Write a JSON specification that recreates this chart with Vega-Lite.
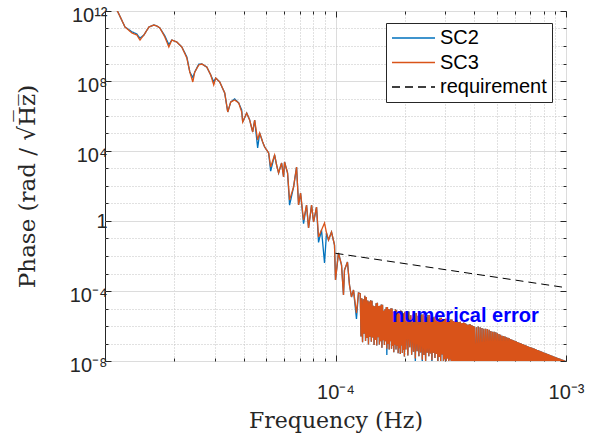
{
"$schema":"https://vega.github.io/schema/vega-lite/v6.json",
"width":461,"height":350,
"autosize":{"type":"none"},
"padding":{"left":105,"top":11,"right":41,"bottom":78},
"background":"white",
"config":{
"view":{"stroke":"#262626","strokeWidth":1},
"axis":{"domain":false,"labelFlush":false,"labelOverlap":false,"labelBound":false},
"legend":{"orient":"none","legendX":281,"legendY":12,"fillColor":"white","strokeColor":"#262626","padding":5,"symbolType":"stroke","symbolSize":1849,"symbolStrokeWidth":1.3,"labelFontSize":20,"labelFont":"Liberation Sans","labelColor":"#000000","labelOffset":4,"clipHeight":20,"rowPadding":4.5,"labelLimit":300}
},
"layer":[
{
"data":{"values":[
{"f":1.0e-5,"SC2":2e13,"SC3":2e13},
{"f":1.138e-5,"SC2":8.7e11,"SC3":8.7e11},
{"f":1.221e-5,"SC2":1.22e11,"SC3":1.22e11},
{"f":1.309e-5,"SC2":6.5e10,"SC3":5.53e10},
{"f":1.375e-5,"SC2":4.8e10,"SC3":4.25e10},
{"f":1.418e-5,"SC2":2.8e10,"SC3":2.2e10},
{"f":1.475e-5,"SC2":4.25e10,"SC3":4.25e10},
{"f":1.551e-5,"SC2":1.22e11,"SC3":1.22e11},
{"f":1.630e-5,"SC2":1.58e11,"SC3":1.58e11},
{"f":1.680e-5,"SC2":1.39e11,"SC3":1.39e11},
{"f":1.730e-5,"SC2":1.07e11,"SC3":1.07e11},
{"f":1.818e-5,"SC2":3.8e10,"SC3":3.27e10},
{"f":1.892e-5,"SC2":1.2e10,"SC3":8.8e9},
{"f":1.950e-5,"SC2":2.2e10,"SC3":2.2e10},
{"f":2.049e-5,"SC2":1.69e10,"SC3":1.69e10},
{"f":2.154e-5,"SC2":8.8e9,"SC3":8.8e9},
{"f":2.265e-5,"SC2":2.4e9,"SC3":2.06e9},
{"f":2.333e-5,"SC2":3.27e8,"SC3":3.27e8},
{"f":2.404e-5,"SC2":1.6e8,"SC3":8.8e7},
{"f":2.452e-5,"SC2":3.27e8,"SC3":3.27e8},
{"f":2.552e-5,"SC2":9.2e8,"SC3":8.2e8},
{"f":2.630e-5,"SC2":9.4e8,"SC3":9.4e8},
{"f":2.764e-5,"SC2":6.3e8,"SC3":6.3e8},
{"f":2.876e-5,"SC2":2.2e8,"SC3":2.2e8},
{"f":2.963e-5,"SC2":9e7,"SC3":5.9e7},
{"f":3.023e-5,"SC2":1.48e8,"SC3":1.48e8},
{"f":3.146e-5,"SC2":8.8e7,"SC3":8.8e7},
{"f":3.307e-5,"SC2":2.06e7,"SC3":2.06e7},
{"f":3.408e-5,"SC2":1.69e6,"SC3":1.69e6},
{"f":3.512e-5,"SC2":6.3e6,"SC3":6.3e6},
{"f":3.654e-5,"SC2":9.5e6,"SC3":8.2e6},
{"f":3.803e-5,"SC2":5.53e6,"SC3":5.53e6},
{"f":3.918e-5,"SC2":2.2e6,"SC3":1.69e6},
{"f":3.957e-5,"SC2":4.5e5,"SC3":4.5e5},
{"f":4.118e-5,"SC2":1.48e6,"SC3":1.48e6},
{"f":4.243e-5,"SC2":5.9e5,"SC3":5.9e5},
{"f":4.372e-5,"SC2":1.22e5,"SC3":1.22e5},
{"f":4.460e-5,"SC2":5.9e5,"SC3":5.9e5},
{"f":4.595e-5,"SC2":1.5e4,"SC3":4.25e4},
{"f":4.688e-5,"SC2":1.07e5,"SC3":1.07e5},
{"f":4.831e-5,"SC2":3.27e4,"SC3":3.27e4},
{"f":4.928e-5,"SC2":1.69e4,"SC3":1.69e4},
{"f":5.129e-5,"SC2":7.7e3,"SC3":7.7e3},
{"f":5.232e-5,"SC2":700,"SC3":1.22e3},
{"f":5.443e-5,"SC2":5.9e3,"SC3":5.9e3},
{"f":5.552e-5,"SC2":1.58e3,"SC3":1.58e3},
{"f":5.663e-5,"SC2":553,"SC3":553},
{"f":5.835e-5,"SC2":2.06e3,"SC3":2.06e3},
{"f":5.953e-5,"SC2":327,"SC3":327},
{"f":6.012e-5,"SC2":2.35e3,"SC3":2.35e3},
{"f":6.195e-5,"SC2":553,"SC3":553},
{"f":6.320e-5,"SC2":8,"SC3":15.8},
{"f":6.578e-5,"SC2":87.7,"SC3":87.7},
{"f":6.778e-5,"SC2":1.22e3,"SC3":1.22e3},
{"f":6.914e-5,"SC2":8.2,"SC3":8.2},
{"f":7.054e-5,"SC2":39.8,"SC3":39.8},
{"f":7.268e-5,"SC2":0.7,"SC3":1.14},
{"f":7.489e-5,"SC2":8.2,"SC3":8.2},
{"f":7.640e-5,"SC2":0.398,"SC3":0.398},
{"f":7.873e-5,"SC2":8.2,"SC3":8.2},
{"f":8.032e-5,"SC2":0.877,"SC3":0.877},
{"f":8.275e-5,"SC2":6.3,"SC3":6.3},
{"f":8.441e-5,"SC2":0.06,"SC3":0.122},
{"f":8.697e-5,"SC2":0.306,"SC3":0.306},
{"f":8.961e-5,"SC2":4e-3,"SC3":0.769},
{"f":9.141e-5,"SC2":0.206,"SC3":0.206},
{"f":9.326e-5,"SC2":0.082,"SC3":0.082},
{"f":9.609e-5,"SC2":0.235,"SC3":0.235},
{"f":9.901e-5,"SC2":0.0425,"SC3":0.0425},
{"f":1.000e-4,"SC2":4.25e-4,"SC3":4.25e-4},
{"f":1.030e-4,"SC2":0.0148,"SC3":0.0148},
{"f":1.062e-4,"SC2":3.06e-3,"SC3":3.06e-3},
{"f":1.083e-4,"SC2":5.9e-5,"SC3":5.9e-5},
{"f":1.094e-4,"SC2":1.58e-3,"SC3":1.58e-3},
{"f":1.127e-4,"SC2":4.54e-3,"SC3":4.54e-3},
{"f":1.150e-4,"SC2":2.2e-4,"SC3":2.2e-4},
{"f":1.173e-4,"SC2":4.54e-5,"SC3":4.54e-5},
{"f":1.197e-4,"SC2":1.14e-4,"SC3":1.14e-4},
{"f":1.233e-4,"SC2":2.5e-6,"SC3":5.5e-6},
{"f":1.258e-4,"SC2":7.7e-5,"SC3":7.7e-5},
{"f":1.28e-4,"SC2":7.1e-5,"SC3":7.1e-5},
{"f":1.29e-4,"SC2":2.5e-7,"SC3":2.5e-7},
{"f":1.30e-4,"SC2":3.9e-5,"SC3":3.9e-5},
{"f":1.31e-4,"SC2":1.2e-7,"SC3":1.2e-7},
{"f":1.32e-4,"SC2":3.4e-5,"SC3":3.4e-5},
{"f":1.33e-4,"SC2":3.6e-7,"SC3":3.6e-7},
{"f":1.34e-4,"SC2":5.3e-5,"SC3":5.3e-5},
{"f":1.35e-4,"SC2":1.4e-7,"SC3":1.4e-7},
{"f":1.36e-4,"SC2":4.6e-5,"SC3":4.6e-5},
{"f":1.37e-4,"SC2":2.05e-7,"SC3":2.05e-7},
{"f":1.38e-4,"SC2":2.85e-5,"SC3":2.85e-5},
{"f":1.39e-4,"SC2":8.9e-8,"SC3":8.9e-8},
{"f":1.40e-4,"SC2":2.5e-5,"SC3":2.5e-5},
{"f":1.41e-4,"SC2":2.4e-7,"SC3":2.4e-7},
{"f":1.42e-4,"SC2":2.95e-5,"SC3":2.95e-5},
{"f":1.43e-4,"SC2":1.28e-7,"SC3":1.28e-7},
{"f":1.44e-4,"SC2":2.75e-5,"SC3":2.75e-5},
{"f":1.45e-4,"SC2":2.2e-7,"SC3":2.2e-7},
{"f":1.46e-4,"SC2":1.42e-5,"SC3":1.42e-5},
{"f":1.47e-4,"SC2":8.3e-8,"SC3":8.3e-8},
{"f":1.48e-4,"SC2":1.33e-5,"SC3":1.33e-5},
{"f":1.49e-4,"SC2":1.58e-7,"SC3":1.58e-7},
{"f":1.50e-4,"SC2":2.0e-5,"SC3":2.0e-5},
{"f":1.51e-4,"SC2":7.6e-8,"SC3":7.6e-8},
{"f":1.52e-4,"SC2":2.1e-5,"SC3":2.1e-5},
{"f":1.53e-4,"SC2":2.3e-7,"SC3":2.3e-7},
{"f":1.54e-4,"SC2":1.38e-5,"SC3":1.38e-5},
{"f":1.55e-4,"SC2":8.7e-8,"SC3":8.7e-8},
{"f":1.56e-4,"SC2":1.44e-5,"SC3":1.44e-5},
{"f":1.57e-4,"SC2":1.33e-7,"SC3":1.33e-7},
{"f":1.58e-4,"SC2":1.7e-5,"SC3":1.7e-5},
{"f":1.59e-4,"SC2":5.8e-8,"SC3":5.8e-8},
{"f":1.60e-4,"SC2":1.66e-5,"SC3":1.66e-5},
{"f":1.61e-4,"SC2":1.55e-7,"SC3":1.55e-7},
{"f":1.62e-4,"SC2":7.4e-6,"SC3":7.4e-6},
{"f":1.63e-4,"SC2":8.1e-8,"SC3":8.1e-8},
{"f":1.64e-4,"SC2":8.9e-6,"SC3":8.9e-6},
{"f":1.65e-4,"SC2":1.35e-7,"SC3":1.35e-7},
{"f":1.66e-4,"SC2":1.17e-5,"SC3":1.17e-5},
{"f":1.67e-4,"SC2":2.2e-8,"SC3":5e-8},
{"f":1.68e-4,"SC2":1.23e-5,"SC3":1.23e-5},
{"f":1.69e-4,"SC2":9.5e-8,"SC3":9.5e-8},
{"f":1.70e-4,"SC2":9.2e-6,"SC3":9.2e-6},
{"f":1.71e-4,"SC2":4.5e-8,"SC3":4.5e-8},
{"f":1.72e-4,"SC2":8.7e-6,"SC3":8.7e-6},
{"f":1.73e-4,"SC2":1.33e-7,"SC3":1.33e-7},
{"f":1.74e-4,"SC2":1.03e-5,"SC3":1.03e-5},
{"f":1.75e-4,"SC2":5e-8,"SC3":5e-8},
{"f":1.76e-4,"SC2":1.0e-5,"SC3":1.0e-5},
{"f":1.77e-4,"SC2":7.5e-8,"SC3":7.5e-8},
{"f":1.78e-4,"SC2":6.0e-6,"SC3":6.0e-6},
{"f":1.79e-4,"SC2":3.2e-8,"SC3":3.2e-8},
{"f":1.80e-4,"SC2":5.9e-6,"SC3":5.9e-6},
{"f":1.81e-4,"SC2":8.4e-8,"SC3":8.4e-8},
{"f":1.82e-4,"SC2":9.1e-6,"SC3":9.1e-6},
{"f":1.83e-4,"SC2":4.5e-8,"SC3":4.5e-8},
{"f":1.84e-4,"SC2":7.9e-6,"SC3":7.9e-6},
{"f":1.85e-4,"SC2":7.5e-8,"SC3":7.5e-8},
{"f":1.86e-4,"SC2":6.2e-6,"SC3":6.2e-6},
{"f":1.87e-4,"SC2":2.8e-8,"SC3":2.8e-8},
{"f":1.88e-4,"SC2":6.7e-6,"SC3":6.7e-6},
{"f":1.89e-4,"SC2":5.3e-8,"SC3":5.3e-8},
{"f":1.90e-4,"SC2":6.6e-6,"SC3":6.6e-6},
{"f":1.91e-4,"SC2":2.5e-8,"SC3":2.5e-8},
{"f":1.92e-4,"SC2":7.7e-6,"SC3":7.7e-6},
{"f":1.93e-4,"SC2":7.6e-8,"SC3":7.6e-8},
{"f":1.94e-4,"SC2":7.1e-6,"SC3":7.1e-6},
{"f":1.95e-4,"SC2":2.9e-8,"SC3":2.9e-8},
{"f":1.96e-4,"SC2":5.1e-6,"SC3":5.1e-6},
{"f":1.97e-4,"SC2":4.3e-8,"SC3":4.3e-8},
{"f":1.98e-4,"SC2":5.4e-6,"SC3":5.4e-6},
{"f":1.99e-4,"SC2":1.8e-8,"SC3":1.8e-8},
{"f":2.00e-4,"SC2":6.6e-6,"SC3":6.6e-6},
{"f":2.02e-4,"SC2":4.5e-8,"SC3":4.5e-8},
{"f":2.04e-4,"SC2":6.3e-6,"SC3":6.3e-6},
{"f":2.06e-4,"SC2":2.1e-8,"SC3":2.1e-8},
{"f":2.08e-4,"SC2":6.7e-6,"SC3":6.7e-6},
{"f":2.10e-4,"SC2":6.2e-8,"SC3":6.2e-8},
{"f":2.12e-4,"SC2":4.1e-6,"SC3":4.1e-6},
{"f":2.14e-4,"SC2":2.3e-8,"SC3":2.3e-8},
{"f":2.16e-4,"SC2":4.4e-6,"SC3":4.4e-6},
{"f":2.18e-4,"SC2":3.4e-8,"SC3":3.4e-8},
{"f":2.20e-4,"SC2":5.9e-6,"SC3":5.9e-6},
{"f":2.22e-4,"SC2":7e-9,"SC3":1.4e-8},
{"f":2.24e-4,"SC2":5.6e-6,"SC3":5.6e-6},
{"f":2.26e-4,"SC2":3.6e-8,"SC3":3.6e-8},
{"f":2.28e-4,"SC2":3.8e-6,"SC3":3.8e-6},
{"f":2.30e-4,"SC2":1.9e-8,"SC3":1.9e-8},
{"f":2.32e-4,"SC2":4.1e-6,"SC3":4.1e-6},
{"f":2.34e-4,"SC2":3.1e-8,"SC3":3.1e-8},
{"f":2.36e-4,"SC2":4.5e-6,"SC3":4.5e-6},
{"f":2.38e-4,"SC2":6e-9,"SC3":1.2e-8},
{"f":2.40e-4,"SC2":4.7e-6,"SC3":4.7e-6},
{"f":2.42e-4,"SC2":2.2e-8,"SC3":2.2e-8},
{"f":2.44e-4,"SC2":3.7e-6,"SC3":3.7e-6},
{"f":2.46e-4,"SC2":1.0e-8,"SC3":1.0e-8},
{"f":2.48e-4,"SC2":3.2e-6,"SC3":3.2e-6},
{"f":2.50e-4,"SC2":3.0e-8,"SC3":3.0e-8},
{"f":2.52e-4,"SC2":4.2e-6,"SC3":4.2e-6},
{"f":2.54e-4,"SC2":1.86e-8,"SC3":1.86e-8},
{"f":2.56e-4,"SC2":4.2e-6,"SC3":4.2e-6},
{"f":2.58e-4,"SC2":2.7e-8,"SC3":2.7e-8},
{"f":2.60e-4,"SC2":2.9e-6,"SC3":2.9e-6},
{"f":2.62e-4,"SC2":5e-9,"SC3":1.12e-8},
{"f":2.64e-4,"SC2":3.1e-6,"SC3":3.1e-6},
{"f":2.66e-4,"SC2":2.9e-8,"SC3":2.9e-8},
{"f":2.68e-4,"SC2":3.4e-6,"SC3":3.4e-6},
{"f":2.70e-4,"SC2":1.51e-8,"SC3":1.51e-8},
{"f":2.72e-4,"SC2":3.5e-6,"SC3":3.5e-6},
{"f":2.74e-4,"SC2":2.5e-8,"SC3":2.5e-8},
{"f":2.76e-4,"SC2":2.85e-6,"SC3":2.85e-6},
{"f":2.78e-4,"SC2":4e-9,"SC3":9.3e-9},
{"f":2.80e-4,"SC2":2.5e-6,"SC3":2.5e-6},
{"f":2.82e-4,"SC2":1.72e-8,"SC3":1.72e-8},
{"f":2.84e-4,"SC2":3.0e-6,"SC3":3.0e-6},
{"f":2.86e-4,"SC2":8e-9,"SC3":8e-9},
{"f":2.88e-4,"SC2":2.95e-6,"SC3":2.95e-6},
{"f":2.90e-4,"SC2":2.35e-8,"SC3":2.35e-8},
{"f":2.92e-4,"SC2":2.25e-6,"SC3":2.25e-6},
{"f":2.94e-4,"SC2":4e-9,"SC3":8.7e-9},
{"f":2.96e-4,"SC2":2.5e-6,"SC3":2.5e-6},
{"f":2.98e-4,"SC2":1.26e-8,"SC3":1.26e-8},
{"f":3.00e-4,"SC2":2.6e-6,"SC3":2.6e-6},
{"f":3.02e-4,"SC2":5.4e-9,"SC3":5.4e-9},
{"f":3.04e-4,"SC2":2.6e-6,"SC3":2.6e-6},
{"f":3.06e-4,"SC2":1.4e-8,"SC3":1.4e-8},
{"f":3.08e-4,"SC2":2.25e-6,"SC3":2.25e-6},
{"f":3.10e-4,"SC2":7.3e-9,"SC3":7.3e-9},
{"f":3.12e-4,"SC2":1.95e-6,"SC3":1.95e-6},
{"f":3.14e-4,"SC2":1.2e-8,"SC3":1.2e-8},
{"f":3.16e-4,"SC2":2.35e-6,"SC3":2.35e-6},
{"f":3.18e-4,"SC2":4.5e-9,"SC3":4.5e-9},
{"f":3.20e-4,"SC2":2.35e-6,"SC3":2.35e-6},
{"f":3.22e-4,"SC2":8.2e-9,"SC3":8.2e-9},
{"f":3.24e-4,"SC2":1.9e-6,"SC3":1.9e-6},
{"f":3.26e-4,"SC2":7.6e-9,"SC3":7.6e-9},
{"f":3.28e-4,"SC2":1.8e-6,"SC3":1.8e-6},
{"f":3.30e-4,"SC2":7.1e-9,"SC3":7.1e-9},
{"f":3.32e-4,"SC2":2.1e-6,"SC3":2.1e-6},
{"f":3.34e-4,"SC2":6.6e-9,"SC3":6.6e-9},
{"f":3.36e-4,"SC2":2.05e-6,"SC3":2.05e-6},
{"f":3.38e-4,"SC2":6.2e-9,"SC3":6.2e-9},
{"f":3.40e-4,"SC2":1.62e-6,"SC3":1.62e-6},
{"f":3.42e-4,"SC2":5.7e-9,"SC3":5.7e-9},
{"f":3.44e-4,"SC2":1.69e-6,"SC3":1.69e-6},
{"f":3.46e-4,"SC2":5.4e-9,"SC3":5.4e-9},
{"f":3.48e-4,"SC2":1.74e-6,"SC3":1.74e-6},
{"f":3.50e-4,"SC2":4e-9,"SC3":4e-9},
{"f":3.52e-4,"SC2":1.42e-6,"SC3":1.42e-6},
{"f":3.54e-4,"SC2":3e-9,"SC3":3e-9},
{"f":3.56e-4,"SC2":1.5e-6,"SC3":1.5e-6},
{"f":3.58e-4,"SC2":1e-9,"SC3":1e-9},
{"f":3.60e-4,"SC2":1.58e-6,"SC3":1.58e-6},
{"f":3.62e-4,"SC2":1e-9,"SC3":1e-9},
{"f":3.64e-4,"SC2":1.48e-6,"SC3":1.48e-6},
{"f":3.66e-4,"SC2":1e-9,"SC3":1e-9},
{"f":3.68e-4,"SC2":1.34e-6,"SC3":1.34e-6},
{"f":3.70e-4,"SC2":1e-9,"SC3":1e-9},
{"f":3.72e-4,"SC2":1.2e-6,"SC3":1.2e-6},
{"f":3.74e-4,"SC2":1e-9,"SC3":1e-9},
{"f":3.76e-4,"SC2":1.15e-6,"SC3":1.15e-6},
{"f":3.78e-4,"SC2":1e-9,"SC3":1e-9},
{"f":3.80e-4,"SC2":1.26e-6,"SC3":1.26e-6},
{"f":3.82e-4,"SC2":1e-9,"SC3":1e-9},
{"f":3.84e-4,"SC2":1.26e-6,"SC3":1.26e-6},
{"f":3.86e-4,"SC2":1e-9,"SC3":1e-9},
{"f":3.88e-4,"SC2":1.12e-6,"SC3":1.12e-6},
{"f":3.90e-4,"SC2":1e-9,"SC3":1e-9},
{"f":3.92e-4,"SC2":1.08e-6,"SC3":1.08e-6},
{"f":3.94e-4,"SC2":1e-9,"SC3":1e-9},
{"f":3.96e-4,"SC2":1.0e-6,"SC3":1.0e-6},
{"f":3.98e-4,"SC2":1e-9,"SC3":1e-9},
{"f":4.00e-4,"SC2":9.5e-7,"SC3":9.5e-7},
{"f":4.04e-4,"SC2":1e-9,"SC3":1e-9},
{"f":4.08e-4,"SC2":8.6e-7,"SC3":8.6e-7},
{"f":4.12e-4,"SC2":1e-9,"SC3":1e-9},
{"f":4.16e-4,"SC2":9.2e-7,"SC3":9.2e-7},
{"f":4.20e-4,"SC2":1e-9,"SC3":1e-9},
{"f":4.24e-4,"SC2":8.6e-7,"SC3":8.6e-7},
{"f":4.28e-4,"SC2":1e-9,"SC3":1e-9},
{"f":4.32e-4,"SC2":7.6e-7,"SC3":7.6e-7},
{"f":4.36e-4,"SC2":1e-9,"SC3":1e-9},
{"f":4.40e-4,"SC2":7.0e-7,"SC3":7.0e-7},
{"f":4.44e-4,"SC2":1e-9,"SC3":1e-9},
{"f":4.48e-4,"SC2":7.0e-7,"SC3":7.0e-7},
{"f":4.52e-4,"SC2":1e-9,"SC3":1e-9},
{"f":4.56e-4,"SC2":6.7e-7,"SC3":6.7e-7},
{"f":4.60e-4,"SC2":1e-9,"SC3":1e-9},
{"f":4.64e-4,"SC2":6.0e-7,"SC3":6.0e-7},
{"f":4.68e-4,"SC2":1e-9,"SC3":1e-9},
{"f":4.72e-4,"SC2":5.1e-7,"SC3":5.1e-7},
{"f":4.76e-4,"SC2":1e-9,"SC3":1e-9},
{"f":4.80e-4,"SC2":4.7e-7,"SC3":4.7e-7},
{"f":4.84e-4,"SC2":1e-9,"SC3":1e-9},
{"f":4.88e-4,"SC2":4.7e-7,"SC3":4.7e-7},
{"f":4.92e-4,"SC2":1e-9,"SC3":1e-9},
{"f":4.96e-4,"SC2":4.4e-7,"SC3":4.4e-7},
{"f":5.00e-4,"SC2":1e-9,"SC3":1e-9},
{"f":5.04e-4,"SC2":3.8e-7,"SC3":3.8e-7},
{"f":5.08e-4,"SC2":1e-9,"SC3":1e-9},
{"f":5.12e-4,"SC2":3.5e-7,"SC3":3.5e-7},
{"f":5.16e-4,"SC2":1e-9,"SC3":1e-9},
{"f":5.20e-4,"SC2":3.2e-7,"SC3":3.2e-7},
{"f":5.24e-4,"SC2":1e-9,"SC3":1e-9},
{"f":5.28e-4,"SC2":2.75e-7,"SC3":2.75e-7},
{"f":5.32e-4,"SC2":1e-9,"SC3":1e-9},
{"f":5.36e-4,"SC2":2.7e-7,"SC3":2.7e-7},
{"f":5.40e-4,"SC2":1e-9,"SC3":1e-9},
{"f":5.44e-4,"SC2":2.5e-7,"SC3":2.5e-7},
{"f":5.48e-4,"SC2":1e-9,"SC3":1e-9},
{"f":5.52e-4,"SC2":2.25e-7,"SC3":2.25e-7},
{"f":5.56e-4,"SC2":1e-9,"SC3":1e-9},
{"f":5.60e-4,"SC2":2.1e-7,"SC3":2.1e-7},
{"f":5.64e-4,"SC2":1e-9,"SC3":1e-9},
{"f":5.68e-4,"SC2":1.96e-7,"SC3":1.96e-7},
{"f":5.72e-4,"SC2":1e-9,"SC3":1e-9},
{"f":5.76e-4,"SC2":1.8e-7,"SC3":1.8e-7},
{"f":5.80e-4,"SC2":1e-9,"SC3":1e-9},
{"f":5.84e-4,"SC2":1.65e-7,"SC3":1.65e-7},
{"f":5.88e-4,"SC2":1e-9,"SC3":1e-9},
{"f":5.92e-4,"SC2":1.55e-7,"SC3":1.55e-7},
{"f":5.96e-4,"SC2":1e-9,"SC3":1e-9},
{"f":6.00e-4,"SC2":1.45e-7,"SC3":1.45e-7},
{"f":6.04e-4,"SC2":1e-9,"SC3":1e-9},
{"f":6.08e-4,"SC2":1.33e-7,"SC3":1.33e-7},
{"f":6.12e-4,"SC2":1e-9,"SC3":1e-9},
{"f":6.16e-4,"SC2":1.22e-7,"SC3":1.22e-7},
{"f":6.20e-4,"SC2":1e-9,"SC3":1e-9},
{"f":6.24e-4,"SC2":1.15e-7,"SC3":1.15e-7},
{"f":6.28e-4,"SC2":1e-9,"SC3":1e-9},
{"f":6.32e-4,"SC2":1.08e-7,"SC3":1.08e-7},
{"f":6.36e-4,"SC2":1e-9,"SC3":1e-9},
{"f":6.40e-4,"SC2":1.0e-7,"SC3":1.0e-7},
{"f":6.44e-4,"SC2":1e-9,"SC3":1e-9},
{"f":6.48e-4,"SC2":9.3e-8,"SC3":9.3e-8},
{"f":6.52e-4,"SC2":1e-9,"SC3":1e-9},
{"f":6.56e-4,"SC2":8.8e-8,"SC3":8.8e-8},
{"f":6.60e-4,"SC2":1e-9,"SC3":1e-9},
{"f":6.64e-4,"SC2":8.3e-8,"SC3":8.3e-8},
{"f":6.68e-4,"SC2":1e-9,"SC3":1e-9},
{"f":6.72e-4,"SC2":7.7e-8,"SC3":7.7e-8},
{"f":6.76e-4,"SC2":1e-9,"SC3":1e-9},
{"f":6.80e-4,"SC2":7.2e-8,"SC3":7.2e-8},
{"f":6.84e-4,"SC2":1e-9,"SC3":1e-9},
{"f":6.88e-4,"SC2":6.8e-8,"SC3":6.8e-8},
{"f":6.92e-4,"SC2":1e-9,"SC3":1e-9},
{"f":6.96e-4,"SC2":6.4e-8,"SC3":6.4e-8},
{"f":7.00e-4,"SC2":1e-9,"SC3":1e-9},
{"f":7.04e-4,"SC2":6.0e-8,"SC3":6.0e-8},
{"f":7.08e-4,"SC2":1e-9,"SC3":1e-9},
{"f":7.12e-4,"SC2":5.7e-8,"SC3":5.7e-8},
{"f":7.16e-4,"SC2":1e-9,"SC3":1e-9},
{"f":7.20e-4,"SC2":5.4e-8,"SC3":5.4e-8},
{"f":7.24e-4,"SC2":1e-9,"SC3":1e-9},
{"f":7.28e-4,"SC2":5.1e-8,"SC3":5.1e-8},
{"f":7.32e-4,"SC2":1e-9,"SC3":1e-9},
{"f":7.36e-4,"SC2":4.8e-8,"SC3":4.8e-8},
{"f":7.40e-4,"SC2":1e-9,"SC3":1e-9},
{"f":7.44e-4,"SC2":4.5e-8,"SC3":4.5e-8},
{"f":7.48e-4,"SC2":1e-9,"SC3":1e-9},
{"f":7.52e-4,"SC2":4.3e-8,"SC3":4.3e-8},
{"f":7.56e-4,"SC2":1e-9,"SC3":1e-9},
{"f":7.60e-4,"SC2":4.05e-8,"SC3":4.05e-8},
{"f":7.64e-4,"SC2":1e-9,"SC3":1e-9},
{"f":7.68e-4,"SC2":3.8e-8,"SC3":3.8e-8},
{"f":7.72e-4,"SC2":1e-9,"SC3":1e-9},
{"f":7.76e-4,"SC2":3.6e-8,"SC3":3.6e-8},
{"f":7.80e-4,"SC2":1e-9,"SC3":1e-9},
{"f":7.84e-4,"SC2":3.45e-8,"SC3":3.45e-8},
{"f":7.88e-4,"SC2":1e-9,"SC3":1e-9},
{"f":7.92e-4,"SC2":3.27e-8,"SC3":3.27e-8},
{"f":7.96e-4,"SC2":1e-9,"SC3":1e-9},
{"f":8.00e-4,"SC2":3.1e-8,"SC3":3.1e-8},
{"f":8.04e-4,"SC2":1e-9,"SC3":1e-9},
{"f":8.08e-4,"SC2":2.95e-8,"SC3":2.95e-8},
{"f":8.12e-4,"SC2":1e-9,"SC3":1e-9},
{"f":8.16e-4,"SC2":2.8e-8,"SC3":2.8e-8},
{"f":8.20e-4,"SC2":1e-9,"SC3":1e-9},
{"f":8.24e-4,"SC2":2.65e-8,"SC3":2.65e-8},
{"f":8.28e-4,"SC2":1e-9,"SC3":1e-9},
{"f":8.32e-4,"SC2":2.5e-8,"SC3":2.5e-8},
{"f":8.36e-4,"SC2":1e-9,"SC3":1e-9},
{"f":8.40e-4,"SC2":2.4e-8,"SC3":2.4e-8},
{"f":8.44e-4,"SC2":1e-9,"SC3":1e-9},
{"f":8.48e-4,"SC2":2.3e-8,"SC3":2.3e-8},
{"f":8.52e-4,"SC2":1e-9,"SC3":1e-9},
{"f":8.56e-4,"SC2":2.18e-8,"SC3":2.18e-8},
{"f":8.60e-4,"SC2":1e-9,"SC3":1e-9},
{"f":8.64e-4,"SC2":2.07e-8,"SC3":2.07e-8},
{"f":8.68e-4,"SC2":1e-9,"SC3":1e-9},
{"f":8.72e-4,"SC2":1.97e-8,"SC3":1.97e-8},
{"f":8.76e-4,"SC2":1e-9,"SC3":1e-9},
{"f":8.80e-4,"SC2":1.88e-8,"SC3":1.88e-8},
{"f":8.84e-4,"SC2":1e-9,"SC3":1e-9},
{"f":8.88e-4,"SC2":1.8e-8,"SC3":1.8e-8},
{"f":8.92e-4,"SC2":1e-9,"SC3":1e-9},
{"f":8.96e-4,"SC2":1.71e-8,"SC3":1.71e-8},
{"f":9.00e-4,"SC2":1e-9,"SC3":1e-9},
{"f":9.04e-4,"SC2":1.64e-8,"SC3":1.64e-8},
{"f":9.08e-4,"SC2":1e-9,"SC3":1e-9},
{"f":9.12e-4,"SC2":1.57e-8,"SC3":1.57e-8},
{"f":9.16e-4,"SC2":1e-9,"SC3":1e-9},
{"f":9.20e-4,"SC2":1.5e-8,"SC3":1.5e-8},
{"f":9.24e-4,"SC2":1e-9,"SC3":1e-9},
{"f":9.28e-4,"SC2":1.44e-8,"SC3":1.44e-8},
{"f":9.32e-4,"SC2":1e-9,"SC3":1e-9},
{"f":9.36e-4,"SC2":1.38e-8,"SC3":1.38e-8},
{"f":9.40e-4,"SC2":1e-9,"SC3":1e-9},
{"f":9.44e-4,"SC2":1.33e-8,"SC3":1.33e-8},
{"f":9.48e-4,"SC2":1e-9,"SC3":1e-9},
{"f":9.52e-4,"SC2":1.27e-8,"SC3":1.27e-8},
{"f":9.56e-4,"SC2":1e-9,"SC3":1e-9},
{"f":9.60e-4,"SC2":1.22e-8,"SC3":1.22e-8},
{"f":9.64e-4,"SC2":1e-9,"SC3":1e-9},
{"f":9.68e-4,"SC2":1.17e-8,"SC3":1.17e-8},
{"f":9.72e-4,"SC2":1e-9,"SC3":1e-9},
{"f":9.76e-4,"SC2":1.13e-8,"SC3":1.13e-8},
{"f":9.80e-4,"SC2":1e-9,"SC3":1e-9},
{"f":9.84e-4,"SC2":1.08e-8,"SC3":1.08e-8},
{"f":9.88e-4,"SC2":1e-9,"SC3":1e-9},
{"f":9.92e-4,"SC2":1.04e-8,"SC3":1.04e-8},
{"f":9.96e-4,"SC2":1e-9,"SC3":1e-9},
{"f":1.00e-3,"SC2":1.0e-8,"SC3":1.0e-8}
]},
"transform":[{"fold":["SC2","SC3"],"as":["series","value"]}],
"mark":{"type":"line","clip":true,"strokeWidth":1.3},
"encoding":{
"x":{"field":"f","type":"quantitative","scale":{"type":"log","domain":[1e-5,1e-3],"nice":false},
"axis":{"orient":"bottom","values":[2e-5,3e-5,4e-5,5e-5,6e-5,7e-5,8e-5,9e-5,1e-4,2e-4,3e-4,4e-4,5e-4,6e-4,7e-4,8e-4,9e-4,1e-3],
"labelExpr":"abs(log(datum.value)/LN10+4)<0.001 ? '10⁻⁴' : abs(log(datum.value)/LN10+3)<0.001 ? '10⁻³' : ''",
"labelFont":"Liberation Sans","labelFontSize":20,"labelColor":"#262626","labelPadding":27,
"tickSize":{"condition":{"test":"abs(log(datum.value)/LN10-round(log(datum.value)/LN10))<0.001","value":-6},"value":-3},
"tickColor":"#262626",
"grid":true,
"gridColor":{"condition":{"test":"abs(log(datum.value)/LN10-round(log(datum.value)/LN10))<0.001","value":"#dcdcdc"},"value":"#c2c2c2"},
"gridDash":{"condition":{"test":"abs(log(datum.value)/LN10-round(log(datum.value)/LN10))<0.001","value":[]},"value":[1,2]},
"title":"Frequency (Hz)","titleFont":"DejaVu Serif","titleFontSize":22,"titleFontWeight":"normal","titleColor":"#262626","titlePadding":5}},
"y":{"field":"value","type":"quantitative","scale":{"type":"log","domain":[1e-8,1e12],"nice":false},
"axis":{"orient":"left","values":[1e-8,1e-7,1e-6,1e-5,1e-4,1e-3,1e-2,1e-1,1,10,100,1000,1e4,1e5,1e6,1e7,1e8,1e9,1e10,1e11,1e12],
"labelExpr":"round(log(datum.value)/LN10)==12 ? '10¹²' : round(log(datum.value)/LN10)==8 ? '10⁸' : round(log(datum.value)/LN10)==4 ? '10⁴' : round(log(datum.value)/LN10)==0 ? '1' : round(log(datum.value)/LN10)==-4 ? '10⁻⁴' : round(log(datum.value)/LN10)==-8 ? '10⁻⁸' : ''",
"labelFont":"Liberation Sans","labelFontSize":20,"labelColor":"#262626","labelPadding":4,
"labelOffset":{"condition":{"test":"round(log(datum.value)/LN10)==0","value":0},"value":4},
"tickSize":{"condition":{"test":"round(log(datum.value)/LN10)%4==0","value":-6},"value":-3},
"tickColor":"#262626",
"grid":true,
"gridColor":{"condition":{"test":"round(log(datum.value)/LN10)%4==0","value":"#dcdcdc"},"value":"#c2c2c2"},
"gridDash":{"condition":{"test":"round(log(datum.value)/LN10)%4==0","value":[]},"value":[1,2]},
"title":"Phase (rad / √H̅z̅)","titleFont":"DejaVu Serif","titleFontSize":23,"titleFontWeight":"normal","titleColor":"#262626","titlePadding":30}},
"color":{"field":"series","type":"nominal","scale":{"domain":["SC2","SC3","requirement"],"range":["#0072BD","#D95319","#000000"]},"legend":{"title":null}},
"strokeDash":{"field":"series","type":"nominal","scale":{"domain":["SC2","SC3","requirement"],"range":[[1,0],[1,0],[8,5]]},"legend":{"title":null}}
}
},
{
"data":{"values":[{"f":1e-4,"value":0.0143,"series":"requirement"},{"f":1e-3,"value":1.55e-4,"series":"requirement"}]},
"mark":{"type":"line","clip":true,"strokeWidth":1},
"encoding":{
"x":{"field":"f","type":"quantitative","scale":{"type":"log","domain":[1e-5,1e-3],"nice":false},
"axis":{"orient":"top","values":[2e-5,3e-5,4e-5,5e-5,6e-5,7e-5,8e-5,9e-5,1e-4,2e-4,3e-4,4e-4,5e-4,6e-4,7e-4,8e-4,9e-4,1e-3],"labels":false,"grid":false,"title":null,
"tickSize":{"condition":{"test":"abs(log(datum.value)/LN10-round(log(datum.value)/LN10))<0.001","value":-6},"value":-3},"tickColor":"#262626"}},
"y":{"field":"value","type":"quantitative","scale":{"type":"log","domain":[1e-8,1e12],"nice":false},
"axis":{"orient":"right","values":[1e-8,1e-7,1e-6,1e-5,1e-4,1e-3,1e-2,1e-1,1,10,100,1000,1e4,1e5,1e6,1e7,1e8,1e9,1e10,1e11,1e12],"labels":false,"grid":false,"title":null,
"tickSize":{"condition":{"test":"round(log(datum.value)/LN10)%4==0","value":-6},"value":-3},"tickColor":"#262626"}},
"color":{"field":"series","type":"nominal","scale":{"domain":["SC2","SC3","requirement"],"range":["#0072BD","#D95319","#000000"]},"legend":{"title":null}},
"strokeDash":{"field":"series","type":"nominal","scale":{"domain":["SC2","SC3","requirement"],"range":[[1,0],[1,0],[8,5]]},"legend":{"title":null}}
}
},
{
"data":{"values":[{"f":3.66e-4,"value":3.7e-6,"label":"numerical error"}]},
"mark":{"type":"text","font":"Liberation Sans","fontSize":20,"fontWeight":"bold","color":"#0000ff","align":"center","baseline":"middle"},
"encoding":{
"x":{"field":"f","type":"quantitative","scale":{"type":"log","domain":[1e-5,1e-3],"nice":false},"axis":null},
"y":{"field":"value","type":"quantitative","scale":{"type":"log","domain":[1e-8,1e12],"nice":false},"axis":null},
"text":{"field":"label"}
}
}
],
"resolve":{"axis":{"x":"independent","y":"independent"}}
}
